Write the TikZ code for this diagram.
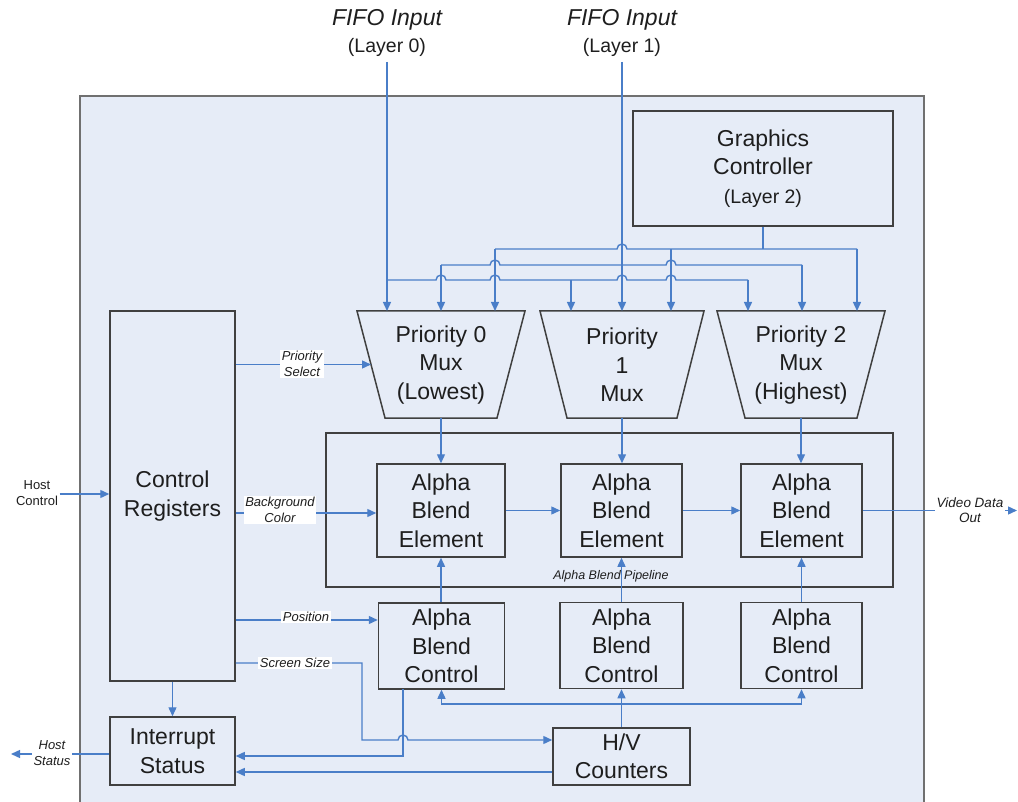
\documentclass[tikz,border=0pt]{standalone}
\usepackage{fontspec}
\setmainfont{Liberation Sans}
\usetikzlibrary{arrows.meta}
\definecolor{bg}{HTML}{E6ECF7}
\definecolor{wirec}{HTML}{4A7EC8}
\definecolor{edgec}{HTML}{404040}
\definecolor{outerc}{HTML}{707070}
\definecolor{txt}{HTML}{1E1E1E}
\newcommand\hopat[2]{-- (#1-5,#2) arc[start angle=180,end angle=0,radius=5pt]}
\begin{document}
\begin{tikzpicture}[x=1pt,y=-1pt,
  box/.style={draw=edgec,line width=1.5pt,fill=bg,inner sep=0pt,align=center,text=txt,font=\fontsize{23}{28.5}\selectfont},
  muxtxt/.style={inner sep=0pt,align=center,text=txt,font=\fontsize{23}{28.5}\selectfont},
  muxshape/.style={draw=edgec,line width=1.5pt,fill=bg},
  wire/.style={draw=wirec,line width=1.4pt},
  arr/.style={wire,-{Triangle[length=9pt,width=8pt]}},
  slbl/.style={inner sep=1.5pt,align=center,text=txt,font=\fontsize{13}{15.5}\selectfont\itshape},
  wlbl/.style={slbl,fill=white},
  toplbl/.style={inner sep=0pt,align=center,text=txt}
]
\useasboundingbox (0,0) rectangle (1018,802);
% outer block
\draw[draw=outerc,line width=2pt,fill=bg] (80,96) rectangle (924,803);

% top labels
\node[toplbl,font=\fontsize{23}{27}\selectfont\itshape] (fifo0) at (387,20) {FIFO Input};
\node[toplbl,font=\fontsize{19.5}{24}\selectfont] (in0) at (387,47) {(Layer 0)};
\node[toplbl,font=\fontsize{23}{27}\selectfont\itshape] (fifo1) at (622,20) {FIFO Input};
\node[toplbl,font=\fontsize{19.5}{24}\selectfont] (in1) at (622,47) {(Layer 1)};
\coordinate (inl0) at (387,62);
\coordinate (inl1) at (622,62);

% graphics controller
\node[box,minimum width=260pt,minimum height=115pt] (gc) at (763,168.5) {Graphics\\Controller\\{\fontsize{19.5}{24}\selectfont (Layer 2)}};

% muxes
\draw[muxshape] (357,311) -- (525,311) -- (497,418) -- (385,418) -- cycle;
\draw[muxshape] (540,311) -- (704,311) -- (677,418) -- (567,418) -- cycle;
\draw[muxshape] (717,311) -- (885,311) -- (857,418) -- (745,418) -- cycle;
\node[muxtxt] (m0) at (441,365) {Priority 0\\Mux\\(Lowest)};
\node[muxtxt] (m1) at (622,365) {Priority\\1\\Mux};
\node[muxtxt] (m2) at (801,365) {Priority 2\\Mux\\(Highest)};
\coordinate (m0b) at (441,418);
\coordinate (m1b) at (622,418);
\coordinate (m2b) at (801,418);
\coordinate (m0l) at (371,364.5);
\coordinate (mt) at (0,311);

% pipeline
\node[draw=edgec,line width=1.5pt,minimum width=567pt,minimum height=154pt,inner sep=0pt] (pipe) at (609.5,510) {};
\node[slbl,font=\fontsize{12.5}{15}\selectfont\itshape] (pipelbl) at (611,576) {Alpha Blend Pipeline};

\node[box,minimum width=128pt,minimum height=93pt] (abe0) at (441,510.5) {Alpha\\Blend\\Element};
\node[box,minimum width=121pt,minimum height=93pt] (abe1) at (621.5,510.5) {Alpha\\Blend\\Element};
\node[box,minimum width=121pt,minimum height=93pt] (abe2) at (801.5,510.5) {Alpha\\Blend\\Element};

\node[box,minimum width=126pt,minimum height=86pt] (abc0) at (441.5,646) {Alpha\\Blend\\Control};
\node[box,minimum width=123pt,minimum height=86pt] (abc1) at (621.5,645.5) {Alpha\\Blend\\Control};
\node[box,minimum width=121pt,minimum height=86pt] (abc2) at (801.5,645.5) {Alpha\\Blend\\Control};

% left column
\node[box,minimum width=125pt,minimum height=370pt] (cr) at (172.5,496) {Control\\Registers};
\node[box,minimum width=125pt,minimum height=68pt] (is) at (172.5,751) {Interrupt\\Status};
\node[box,minimum width=137pt,minimum height=57pt] (hv) at (621.5,756.5) {H/V\\Counters};

% ---- top wiring ----
\draw[arr] (inl0) -- (inl0 |- mt);
\draw[arr] (inl1) -- (inl1 |- mt);
\draw[wire] (387,280) \hopat{441}{280} \hopat{495}{280} \hopat{622}{280} \hopat{671}{280} -- (748,280);
\draw[arr] (571,280) -- (571,311);
\draw[arr] (748,280) -- (748,311);
\draw[wire] (441,265) \hopat{495}{265} -- (622,265) \hopat{671}{265} -- (802,265);
\draw[arr] (441,265) -- (441,311);
\draw[arr] (802,265) -- (802,311);
\draw[wire] (gc.south) -- (763,249);
\draw[wire] (495,249) \hopat{622}{249} -- (857,249);
\draw[arr] (495,249) -- (495,311);
\draw[arr] (671,249) -- (671,311);
\draw[arr] (857,249) -- (857,311);

% mux to elements
\draw[arr] (m0b) -- (m0b |- abe0.north);
\draw[arr] (m1b) -- (m1b |- abe1.north);
\draw[arr] (m2b) -- (m2b |- abe2.north);

% element chain
\draw[arr] (abe0.east) -- (abe1.west);
\draw[arr] (abe1.east) -- (abe2.west);
\coordinate (vout) at (1017,510.5);
\draw[arr] (abe2.east) -- (vout);
\node[wlbl,font=\fontsize{13.5}{15.5}\selectfont\itshape] (vlbl) at (970,510) {Video Data\\Out};

% controls to elements
\draw[arr] (abe0.south |- abc0.north) -- (abe0.south);
\draw[arr] (abe1.south |- abc1.north) -- (abe1.south);
\draw[arr] (abe2.south |- abc2.north) -- (abe2.south);

% host control
\node[slbl,font=\fontsize{13}{15.5}\selectfont] (hc) at (37,493) {Host\\Control};
\coordinate (yhc) at (0,494);
\draw[arr] (hc.east |- yhc) -- (cr.west |- yhc);

% priority select
\draw[arr] (cr.east |- m0l) -- (m0l);
\node[wlbl] (pslbl) at (302,364) {Priority\\Select};

% background color
\coordinate (ybg) at (0,513);
\draw[arr] (cr.east |- ybg) -- (abe0.west |- ybg);
\node[wlbl] (bglbl) at (280,510) {Background\\Color};

% position
\coordinate (ypos) at (0,620);
\draw[arr] (cr.east |- ypos) -- (abc0.west |- ypos);
\node[wlbl] (poslbl) at (306,617) {Position};

% screen size
\coordinate (yss) at (0,663);
\coordinate (yhv) at (0,740);
\draw[arr] (cr.east |- yss) -- (362,663) -- (362,740) \hopat{403}{740} -- (hv.west |- yhv);
\node[wlbl] (sslbl) at (295,663) {Screen Size};

% control 0 to interrupt status
\coordinate (yis1) at (0,756);
\draw[arr] (403,689) -- (403,756) -- (is.east |- yis1);
% hv to interrupt status
\coordinate (yis2) at (0,772);
\draw[arr] (hv.west |- yis2) -- (is.east |- yis2);
% hv to controls
\draw[arr] (hv.north) -- (abc1.south);
\coordinate (jn) at (621.5,704);
\draw[arr] (jn) -- (abc0.south |- jn) -- (abc0.south);
\draw[arr] (jn) -- (abc2.south |- jn) -- (abc2.south);
% cr to is
\draw[arr] (cr.south) -- (is.north);
% host status
\coordinate (hst) at (11,754);
\draw[arr] (is.west |- hst) -- (hst);
\node[wlbl] (hslbl) at (52,753) {Host\\Status};
\end{tikzpicture}
\end{document}
